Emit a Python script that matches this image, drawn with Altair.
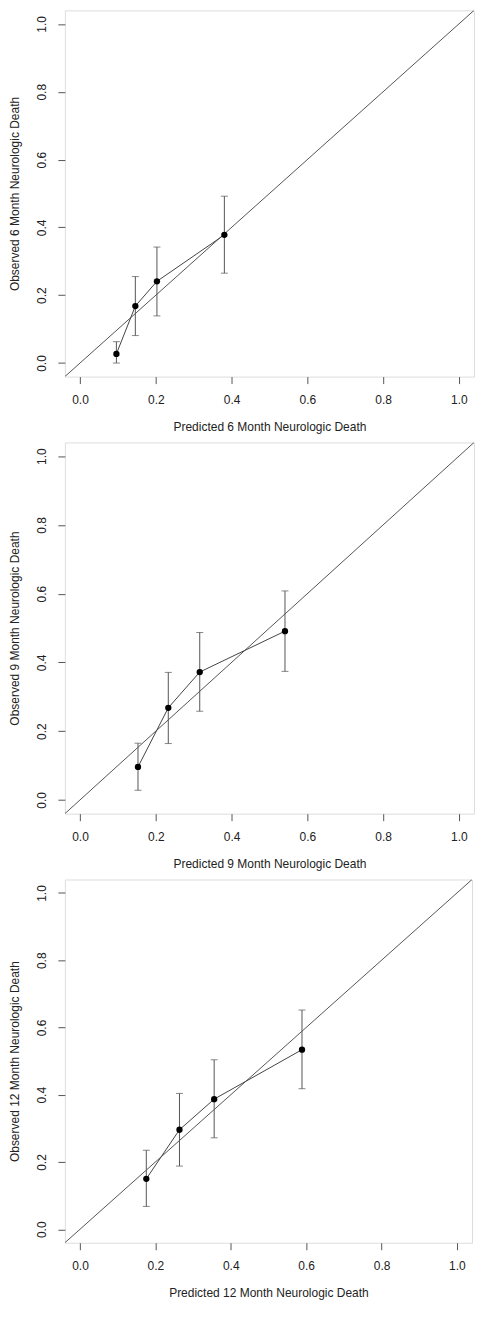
import altair as alt
import pandas as pd

# Calibration data (three panels)
months = ["6", "9", "12"]
pred_6 = [0.096, 0.146, 0.203, 0.381]
obs_6 = [0.027, 0.168, 0.241, 0.378]
lo_6 = [0.000, 0.081, 0.139, 0.265]
hi_6 = [0.063, 0.255, 0.342, 0.492]

pred_9 = [0.153, 0.233, 0.316, 0.541]
obs_9 = [0.096, 0.268, 0.372, 0.491]
lo_9 = [0.028, 0.164, 0.258, 0.374]
hi_9 = [0.165, 0.371, 0.487, 0.608]

pred_12 = [0.176, 0.264, 0.356, 0.589]
obs_12 = [0.150, 0.296, 0.387, 0.534]
lo_12 = [0.068, 0.188, 0.272, 0.418]
hi_12 = [0.235, 0.404, 0.504, 0.652]

axis_ticks = [0.0, 0.2, 0.4, 0.6, 0.8, 1.0]
axis_limits = [-0.04, 1.04]

FONT = "Liberation Sans"
LINE = "#555555"


def panel(month, pred, obs, lo, hi, w, h):
    df = pd.DataFrame({"pred": pred, "obs": obs, "lo": lo, "hi": hi})
    diag = pd.DataFrame({"a": axis_limits, "b": axis_limits})
    xs = alt.Scale(domain=axis_limits, nice=False, zero=False)
    ys = alt.Scale(domain=axis_limits, nice=False, zero=False)
    xaxis = alt.Axis(values=axis_ticks, format=".1f", grid=False, domain=False,
                     tickSize=7, tickColor="#555555", labelPadding=11,
                     titlePadding=16, labelFontSize=12, titleFontSize=12,
                     labelFont=FONT, titleFont=FONT, labelColor="#222222",
                     titleColor="#222222", titleFontWeight="normal")
    yaxis = alt.Axis(values=axis_ticks, format=".1f", grid=False, domain=False,
                     tickSize=7, tickColor="#555555", labelPadding=9,
                     labelAngle=270, labelAlign="center", labelBaseline="bottom",
                     titlePadding=14, labelFontSize=12, titleFontSize=12,
                     labelFont=FONT, titleFont=FONT, labelColor="#222222",
                     titleColor="#222222", titleFontWeight="normal")
    xtitle = f"Predicted {month} Month Neurologic Death"
    ytitle = f"Observed {month} Month Neurologic Death"

    base_diag = alt.Chart(diag).mark_line(color=LINE, strokeWidth=1, clip=True).encode(
        x=alt.X("a:Q", scale=xs, axis=xaxis, title=xtitle),
        y=alt.Y("b:Q", scale=ys, axis=yaxis, title=ytitle),
    )
    base = alt.Chart(df)
    conn = base.mark_line(color="#444444", strokeWidth=1).encode(
        x=alt.X("pred:Q", scale=xs), y=alt.Y("obs:Q", scale=ys))
    bars = base.mark_rule(color=LINE, strokeWidth=1).encode(
        x=alt.X("pred:Q", scale=xs), y=alt.Y("lo:Q", scale=ys), y2="hi:Q")
    cap_lo = base.mark_tick(color=LINE, thickness=1, size=7, orient="horizontal").encode(
        x=alt.X("pred:Q", scale=xs), y=alt.Y("lo:Q", scale=ys))
    cap_hi = base.mark_tick(color=LINE, thickness=1, size=7, orient="horizontal").encode(
        x=alt.X("pred:Q", scale=xs), y=alt.Y("hi:Q", scale=ys))
    pts = base.mark_circle(color="black", size=40, opacity=1).encode(
        x=alt.X("pred:Q", scale=xs), y=alt.Y("obs:Q", scale=ys))
    return alt.layer(base_diag, conn, bars, cap_lo, cap_hi, pts).properties(
        width=w, height=h)


chart = alt.vconcat(
    panel(months[0], pred_6, obs_6, lo_6, hi_6, 410, 367),
    panel(months[1], pred_9, obs_9, lo_9, hi_9, 410, 372),
    panel(months[2], pred_12, obs_12, lo_12, hi_12, 408, 364),
    spacing=8,
).properties(
    padding={"left": 0, "top": 0, "right": 0, "bottom": 0}
).configure_view(
    stroke="#666666", strokeWidth=1
).configure(background="white")

chart.save("out.html", embed_options={"renderer": "svg", "actions": False})
